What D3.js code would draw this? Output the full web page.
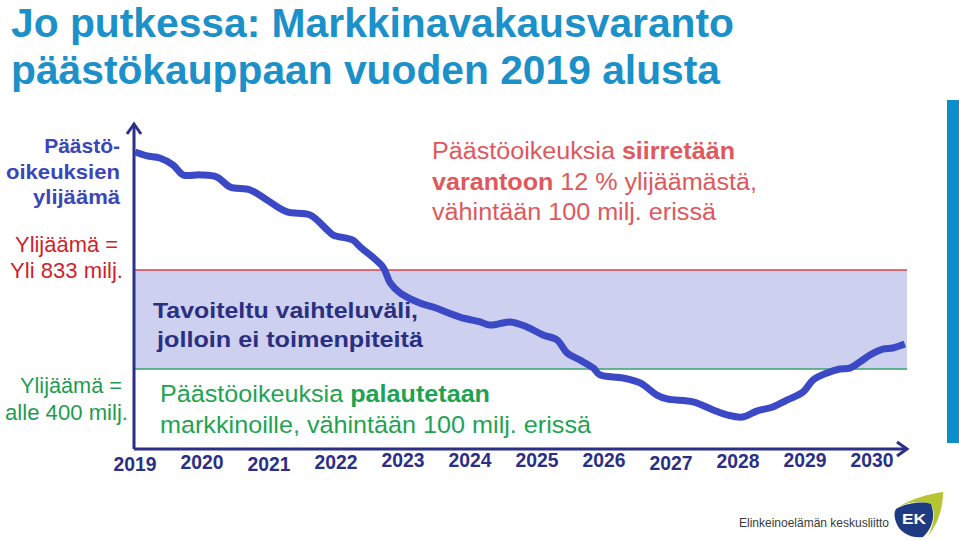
<!DOCTYPE html>
<html><head><meta charset="utf-8">
<script src="https://cdn.jsdelivr.net/npm/d3@7"></script>
<style>body{margin:0;background:#fff}svg{display:block}text{font-family:"Liberation Sans",Arial,Helvetica,sans-serif}</style>
</head><body><svg id="c" width="959" height="541"></svg>
<script>
// ---- data ----
const years = [2019,2020,2021,2022,2023,2024,2025,2026,2027,2028,2029,2030];
const surplusYear = [2019.0,2019.18,2019.37,2019.57,2019.72,2019.97,2020.22,2020.42,2020.72,2020.97,2021.27,2021.61,2021.87,2021.96,2022.25,2022.36,2022.7,2022.81,2022.96,2023.25,2023.45,2023.85,2024.15,2024.3,2024.6,2024.85,2025.09,2025.3,2025.45,2025.64,2025.84,2025.94,2026.28,2026.54,2026.79,2026.94,2027.33,2027.63,2027.84,2028.07,2028.28,2028.52,2028.73,2028.97,2029.12,2029.33,2029.52,2029.67,2029.82,2029.97,2030.16,2030.31,2030.49];
const surplusValue = [1349,1332,1323,1292,1249,1249,1240,1196,1183,1139,1087,1074,1008,986,964,934,846,776,732,689,671,627,606,592,606,584,549,527,470,439,404,374,361,339,286,269,256,221,199,190,216,234,264,299,352,383,400,404,431,461,487,492,509];
const upperThreshold = 833;
const lowerThreshold = 400;
const yearLabelOffsets = [3,1,3,1,-1,-1,-1,-1,2,0,-1,-1];

const svg = d3.select("#c");
const x = d3.scaleLinear().domain([2019, 2030]).range([135, 872]);
const y = d3.scaleLinear().domain([lowerThreshold, upperThreshold]).range([369, 270]);
const x0 = 134, xEnd = 907, yBase = 449, yTop = 124;
const navy = "#2b2f86";

function fit(sel, w) { return sel.attr("textLength", w).attr("lengthAdjust", "spacingAndGlyphs"); }

// title
const title = svg.append("g").attr("fill", "#1b90c9").attr("font-weight", "bold").attr("font-size", 40);
fit(title.append("text").attr("x", 11).attr("y", 37).text("Jo putkessa: Markkinavakausvaranto"), 723);
fit(title.append("text").attr("x", 11).attr("y", 84).text("päästökauppaan vuoden 2019 alusta"), 709);

// right blue bar
svg.append("rect").attr("x", 947).attr("y", 100).attr("width", 12).attr("height", 343).attr("fill", "#0b8ec9");

// band
svg.append("rect").attr("x", x0).attr("y", y(upperThreshold)).attr("width", xEnd - x0).attr("height", y(lowerThreshold) - y(upperThreshold)).attr("fill", "#cdd0ee");
svg.append("line").attr("x1", x0).attr("x2", xEnd).attr("y1", y(upperThreshold)).attr("y2", y(upperThreshold)).attr("stroke", "#d9434b").attr("stroke-width", 1.5);
svg.append("line").attr("x1", x0).attr("x2", xEnd).attr("y1", y(lowerThreshold)).attr("y2", y(lowerThreshold)).attr("stroke", "#3aa36a").attr("stroke-width", 1.5);

// axes
const ax = svg.append("g").attr("stroke", navy).attr("fill", "none").attr("stroke-width", 3);
ax.append("path").attr("d", `M${x0},${yBase}V${yTop+2}`);
ax.append("path").attr("d", `M${x0-7},${yTop+10}L${x0},${yTop}L${x0+7},${yTop+10}`);
ax.append("path").attr("d", `M${x0},${yBase}H${xEnd-2}`);
ax.append("path").attr("d", `M${xEnd-10},${yBase-7}L${xEnd},${yBase}L${xEnd-10},${yBase+7}`);

// year labels
fit(svg.append("g").selectAll("text").data(years).join("text")
  .attr("x", d => x(d)).attr("y", (d, i) => 468 + yearLabelOffsets[i])
  .attr("text-anchor", "middle").attr("font-weight", "bold").attr("font-size", 19.5)
  .attr("fill", navy).text(d => d), 43);

// curve
const pts = surplusYear.map((t, i) => [t, surplusValue[i]]);
svg.append("path").datum(pts)
  .attr("d", d3.line().x(d => x(d[0])).y(d => y(d[1])).curve(d3.curveCatmullRom.alpha(0.5)))
  .attr("fill", "none").attr("stroke", "#3b49c6").attr("stroke-width", 7).attr("stroke-linejoin", "round");

// left labels
const lb = svg.append("g").attr("text-anchor", "end").attr("font-size", 22);
const blue = lb.append("g").attr("fill", "#3b46b8").attr("font-weight", "bold").attr("font-size", 21);
blue.append("text").attr("x", 120).attr("y", 153).text("Päästö-");
fit(blue.append("text").attr("x", 120).attr("y", 179).text("oikeuksien"), 114);
fit(blue.append("text").attr("x", 120).attr("y", 204).text("ylijäämä"), 87);
const red = lb.append("g").attr("fill", "#d01f2b");
fit(red.append("text").attr("x", 118).attr("y", 252).text("Ylijäämä ="), 103);
fit(red.append("text").attr("x", 123).attr("y", 278).text("Yli 833 milj."), 113);
const grn = lb.append("g").attr("fill", "#1d9c51");
fit(grn.append("text").attr("x", 122).attr("y", 393).text("Ylijäämä ="), 102);
fit(grn.append("text").attr("x", 128).attr("y", 420).text("alle 400 milj."), 123);

// band text
const bt = svg.append("g").attr("fill", "#2a2f82").attr("font-weight", "bold").attr("font-size", 22);
fit(bt.append("text").attr("x", 153).attr("y", 318).text("Tavoiteltu vaihteluväli,"), 265);
fit(bt.append("text").attr("x", 157).attr("y", 347).text("jolloin ei toimenpiteitä"), 266);

// red annotation
const rt = svg.append("g").attr("fill", "#e0575c").attr("font-size", 23.5);
const r1 = fit(rt.append("text").attr("x", 432).attr("y", 159), 303);
r1.append("tspan").text("Päästöoikeuksia ");
r1.append("tspan").attr("font-weight", "bold").text("siirretään");
const r2 = fit(rt.append("text").attr("x", 432).attr("y", 190), 325);
r2.append("tspan").attr("font-weight", "bold").text("varantoon");
r2.append("tspan").text(" 12 % ylijäämästä,");
fit(rt.append("text").attr("x", 432).attr("y", 220).text("vähintään 100 milj. erissä"), 284);

// green annotation
const gt = svg.append("g").attr("fill", "#1ea352").attr("font-size", 24.5);
const g1 = fit(gt.append("text").attr("x", 160).attr("y", 402), 330);
g1.append("tspan").text("Päästöoikeuksia ");
g1.append("tspan").attr("font-weight", "bold").text("palautetaan");
fit(gt.append("text").attr("x", 160).attr("y", 433).text("markkinoille, vähintään 100 milj. erissä"), 431);

// logo
fit(svg.append("text").attr("x", 739).attr("y", 527).attr("font-size", 13).attr("fill", "#3a3a3a")
  .text("Elinkeinoelämän keskusliitto"), 150);
const lg = svg.append("g");
lg.append("path").attr("d", "M897,508 C912,498 930,494 943,492 C943,508 938,524 928,536 C934,524 936,512 931,504 C920,500 907,502 897,508Z").attr("fill", "#b7c431");
lg.append("path").attr("d", "M896,509 C906,503 922,501 931,504 C936,516 932,529 923,537 C911,539 899,532 896,522 C894,516 894,512 896,509Z").attr("fill", "#1e3b82");
fit(lg.append("text").attr("x", 902).attr("y", 524).attr("font-size", 14).attr("font-weight", "bold").attr("fill", "#fff").text("EK"), 24);
</script></body></html>
